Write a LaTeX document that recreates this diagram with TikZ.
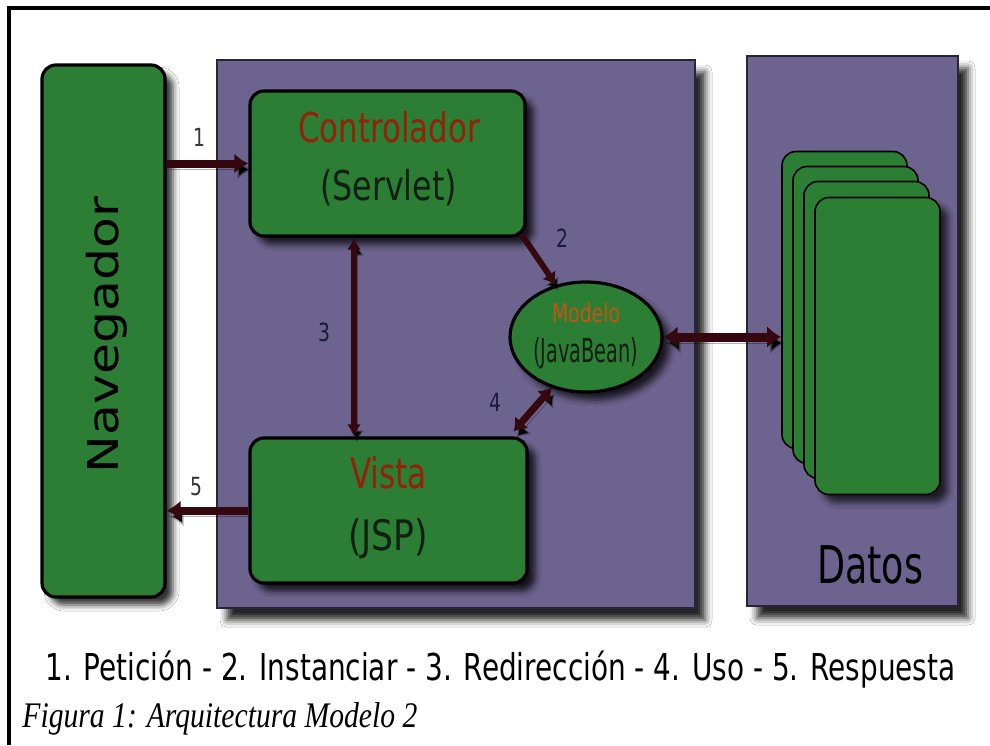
\documentclass[tikz,border=0pt]{standalone}
\usepackage{fontspec}
\usepackage{graphicx}
\newfontfamily\dvs{DejaVu Sans}
\newfontfamily\lser{Liberation Serif}
\usetikzlibrary{shapes.geometric,arrows.meta,shadows.blur,calc}
\definecolor{boxgreen}{RGB}{44,126,52}
\definecolor{panelc}{RGB}{108,99,142}
\definecolor{panelline}{RGB}{40,36,60}
\definecolor{redtxt}{RGB}{150,32,8}
\definecolor{orgtxt}{RGB}{196,84,20}
\definecolor{darktxt}{RGB}{18,32,20}
\definecolor{navytxt}{RGB}{26,26,58}
\definecolor{greytxt}{RGB}{55,55,55}
\definecolor{arrowc}{RGB}{52,8,14}
\newcommand{\fitw}[3]{{\fontsize{#1}{#1}\selectfont\resizebox{#2}{\height}{#3}}}
\tikzset{
  gbox/.style={draw=black, line width=1.6pt, fill=boxgreen, rounded corners=7pt, inner sep=0pt,
    blur shadow={shadow xshift=4pt, shadow yshift=-4pt, shadow blur radius=3pt, shadow opacity=80}},
  cardbox/.style={draw=black, line width=0.8pt, fill=boxgreen, rounded corners=7pt, inner sep=0pt,
    minimum width=62.5pt, minimum height=148.5pt},
  panel/.style={draw=panelline, line width=0.7pt, fill=panelc, inner sep=0pt,
    blur shadow={shadow xshift=5pt, shadow yshift=-6pt, shadow blur radius=3.5pt, shadow opacity=85}},
  txt/.style={inner sep=0pt, anchor=base},
  numlbl/.style={inner sep=0pt, font=\dvs\fontsize{12.5pt}{12.5pt}\selectfont},
  arr/.style={draw=arrowc, line cap=butt,
    preaction={draw=black, draw opacity=0.3, transform canvas={xshift=1.5pt, yshift=-3pt}}},
}
\begin{document}
\begin{tikzpicture}[x=0.5pt, y=-0.5pt]
\fill[white] (0,0) rectangle (990,745);
\useasboundingbox (0,0) rectangle (990,745);
% outer frame
\draw[line width=2pt, black] (9,745) -- (9,8) -- (990,8);

% panels
\node[panel, minimum width=239pt, minimum height=274pt] (p1) at (456,334) {};
\node[panel, minimum width=105.5pt, minimum height=275pt] (p2) at (852.5,331) {};

% Navegador
\node[gbox, minimum width=61.5pt, minimum height=266pt] (nav) at (103.5,331) {};
\node[txt, rotate=90, text=black] (tnav) at (118,335) {\dvs\fitw{21.25pt}{138pt}{Navegador}};

% Controlador
\node[gbox, minimum width=137.5pt, minimum height=72.5pt] (ctrl) at (387.5,163.5) {};
\node[txt, text=redtxt] (tctrl) at (389,142) {\dvs\fitw{20.5pt}{91pt}{Controlador}};
\node[txt, text=darktxt] (tserv) at (388.5,200) {\dvs\fitw{20.5pt}{68.5pt}{(Servlet)}};

% Vista
\node[gbox, minimum width=138.5pt, minimum height=72.5pt] (vista) at (388.5,510.5) {};
\node[txt, text=redtxt] (tvista) at (388.5,488) {\dvs\fitw{21pt}{38.5pt}{Vista}};
\node[txt, text=darktxt] (tjsp) at (388,550) {\dvs\fitw{21pt}{40pt}{(JSP)}};

% Modelo
\node[ellipse, draw=black, line width=1.6pt, fill=boxgreen, inner sep=0pt,
  minimum width=76pt, minimum height=55pt,
  blur shadow={shadow xshift=4pt, shadow yshift=-4pt, shadow blur radius=3pt, shadow opacity=75}] (model) at (586,337) {};
\node[txt, text=orgtxt] (tmod) at (586,322) {\dvs\fitw{13pt}{34pt}{Modelo}};
\node[txt, text=darktxt] (tjb) at (585.5,362) {\dvs\fitw{16.5pt}{52.5pt}{(JavaBean)}};

% Datos cards
\node[cardbox] (card1) at (844.5,300) {};
\node[cardbox] (card2) at (855.5,315) {};
\node[cardbox] (card3) at (866.5,330) {};
\node[cardbox, blur shadow={shadow xshift=4pt, shadow yshift=-4pt, shadow blur radius=3pt, shadow opacity=70}] (card4) at (877.5,346) {};
\node[txt, text=black] (tdatos) at (870,583) {\dvs\fitw{26pt}{53pt}{Datos}};

% connectors
\coordinate (x3) at (354,0);
\draw[arr, line width=4pt, -{Latex[length=7pt,width=10pt]}] (nav.east |- ctrl.west) -- (ctrl.west);
\draw[arr, line width=4pt, -{Latex[length=7pt,width=10pt]}] (vista.west) -- (nav.east |- vista.west);
\draw[arr, line width=2.6pt, {Latex[length=6pt,width=7pt]}-{Latex[length=6pt,width=7pt]}] (ctrl.south -| x3) -- (vista.north -| x3);
\draw[arr, line width=3pt, -{Latex[length=6pt,width=8pt]}] ([xshift=-2.5pt,yshift=1.5pt]ctrl.south east) -- (model.120);
\draw[arr, line width=3.5pt, {Latex[length=6pt,width=9pt]}-{Latex[length=6pt,width=9pt]}] ([xshift=-7.5pt,yshift=2.5pt]vista.north east) -- (model.236);
\draw[arr, line width=4.5pt, {Latex[length=7pt,width=11pt]}-{Latex[length=7pt,width=11pt]}] (model.east) -- (model.east -| card1.west);

% number labels
\node[numlbl, text=greytxt] (n1) at (199,137) {\scalebox{0.75}[1]{1}};
\node[numlbl, text=navytxt] (n2) at (562,238) {\scalebox{0.75}[1]{2}};
\node[numlbl, text=navytxt] (n3) at (324,332) {\scalebox{0.75}[1]{3}};
\node[numlbl, text=navytxt] (n4) at (495,402) {\scalebox{0.75}[1]{4}};
\node[numlbl, text=greytxt] (n5) at (196,487) {\scalebox{0.75}[1]{5}};

% captions
\node[inner sep=0pt, anchor=base west, text=black] (cap1) at (45,680) {\dvs\fitw{18.5pt}{455pt}{1. Petición - 2. Instanciar - 3. Redirección - 4. Uso - 5. Respuesta}};
\node[inner sep=0pt, anchor=base west, text=black] (cap2) at (22,727) {\lser\itshape\fitw{18pt}{197.5pt}{Figura 1: Arquitectura Modelo 2}};
\end{tikzpicture}
\end{document}
